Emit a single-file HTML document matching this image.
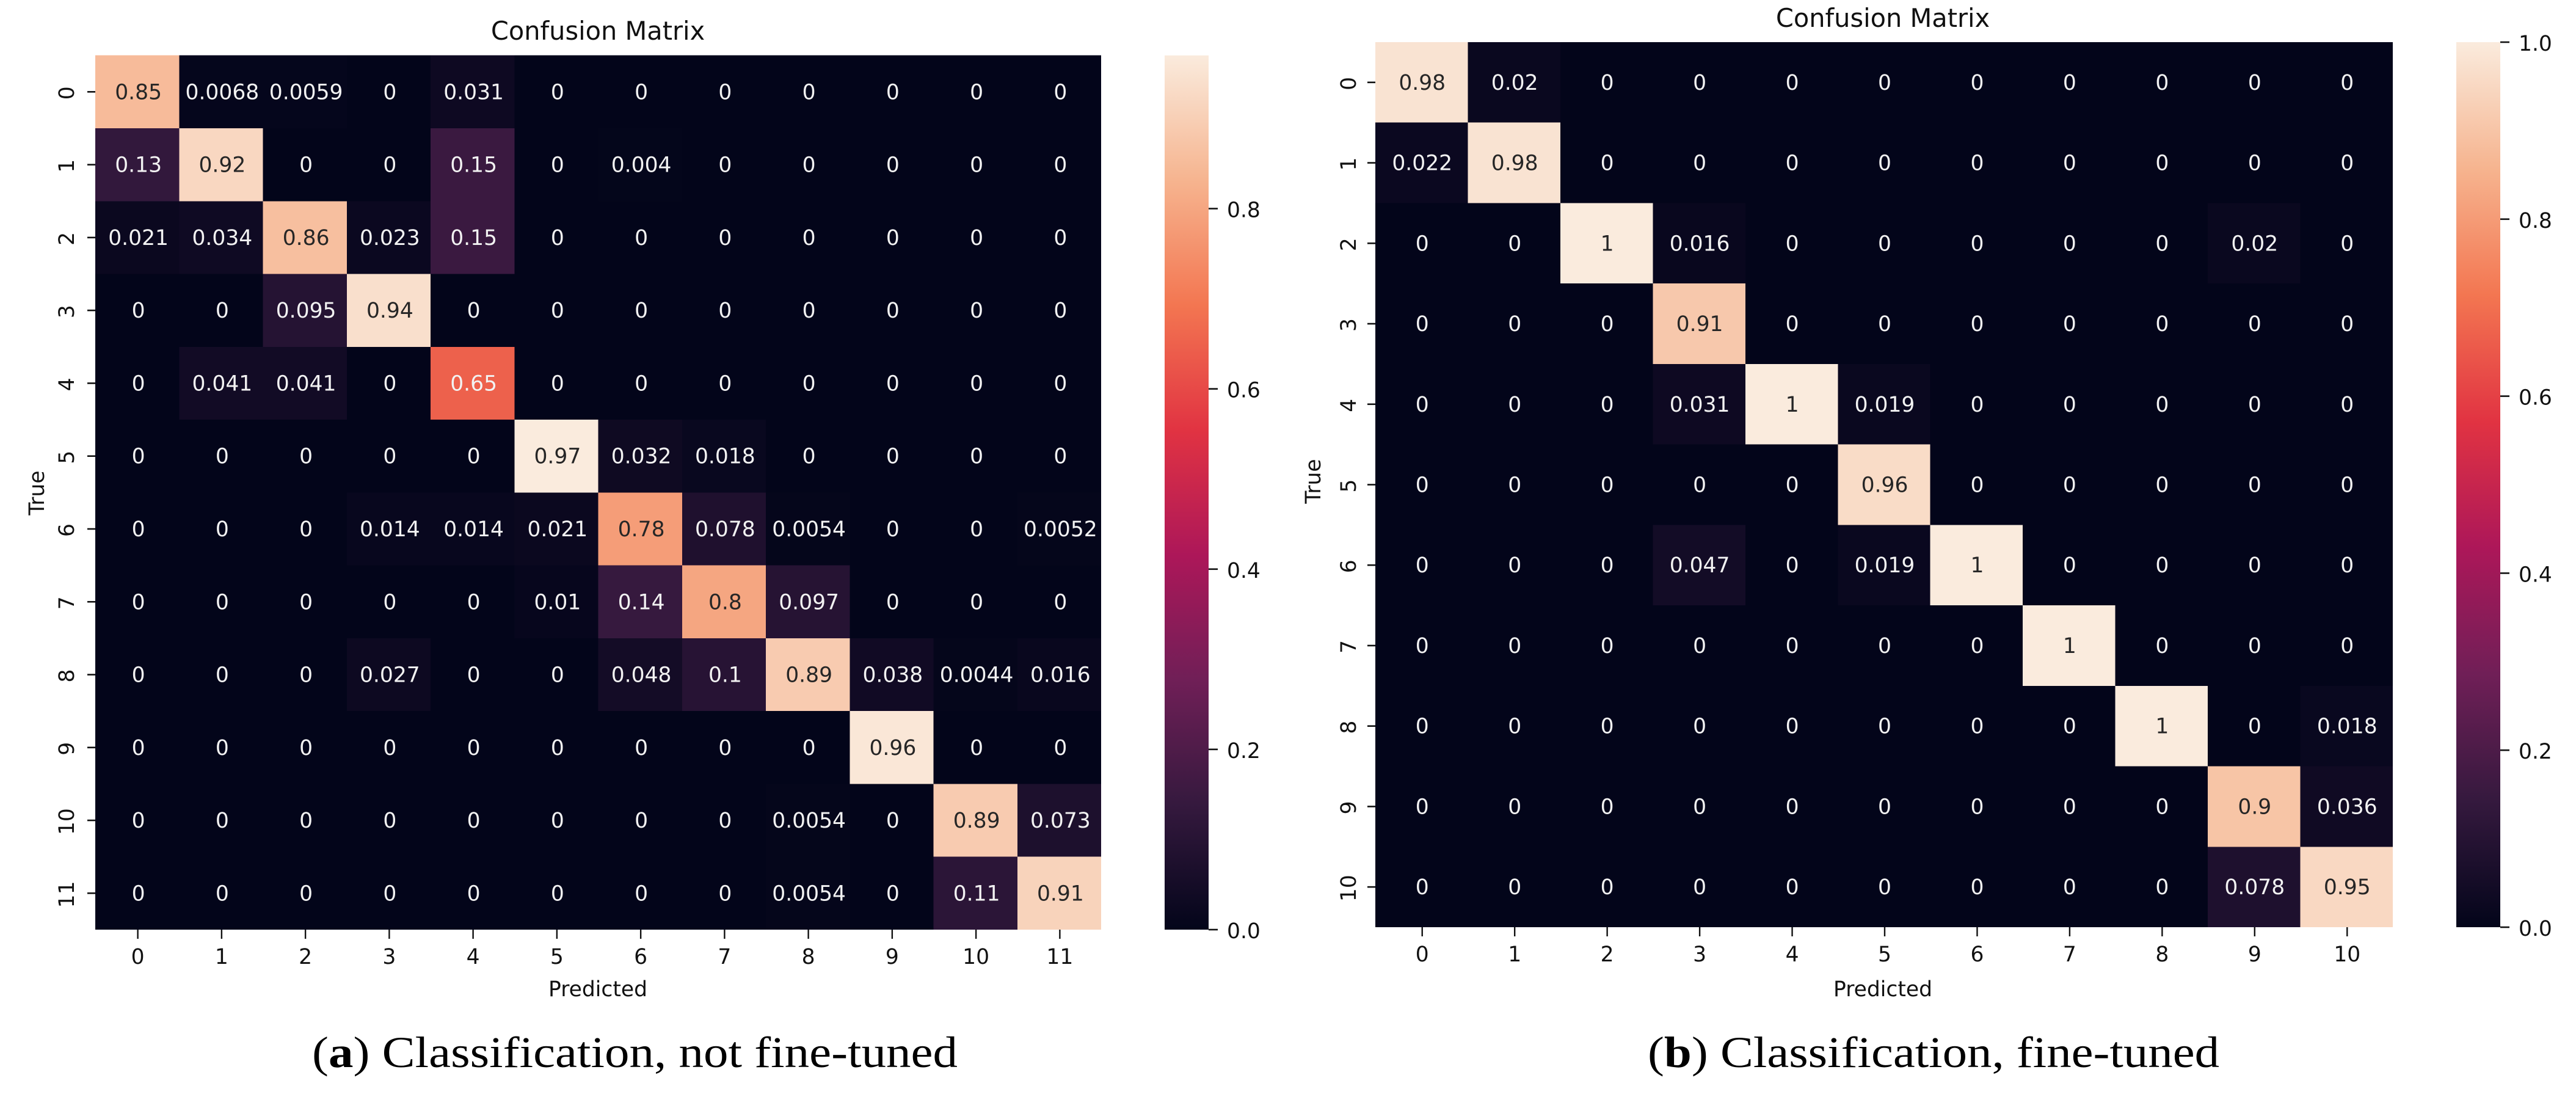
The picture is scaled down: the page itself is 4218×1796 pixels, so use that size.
<!DOCTYPE html>
<html lang="en">
<head>
<meta charset="utf-8">
<title>Confusion matrices</title>
<style>
  html, body { margin: 0; padding: 0; background: #ffffff; }
  #figure { display: block; }
  text { font-family: "DejaVu Sans", "Liberation Sans", sans-serif; }
  .caption { font-family: "Liberation Serif", serif; font-size: 72px; fill: #000; }
</style>
</head>
<body>
<svg id="figure" xmlns="http://www.w3.org/2000/svg" width="4218" height="1796" viewBox="0 0 4218 1796">
  <defs id="gradients"></defs>
  <g id="panel-a"></g>
  <g id="panel-b"></g>
  <text class="caption" x="511" y="1747" textLength="1057" lengthAdjust="spacingAndGlyphs">(<tspan font-weight="bold">a</tspan>) Classification, not fine-tuned</text>
  <text class="caption" x="2698" y="1747" textLength="936" lengthAdjust="spacingAndGlyphs">(<tspan font-weight="bold">b</tspan>) Classification, fine-tuned</text>
</svg>
<script>
const categoriesA = ["0","1","2","3","4","5","6","7","8","9","10","11"];
const valuesA = [
  [0.85,0.0068,0.0059,0,0.031,0,0,0,0,0,0,0],
  [0.13,0.92,0,0,0.15,0,0.004,0,0,0,0,0],
  [0.021,0.034,0.86,0.023,0.15,0,0,0,0,0,0,0],
  [0,0,0.095,0.94,0,0,0,0,0,0,0,0],
  [0,0.041,0.041,0,0.65,0,0,0,0,0,0,0],
  [0,0,0,0,0,0.97,0.032,0.018,0,0,0,0],
  [0,0,0,0.014,0.014,0.021,0.78,0.078,0.0054,0,0,0.0052],
  [0,0,0,0,0,0.01,0.14,0.8,0.097,0,0,0],
  [0,0,0,0.027,0,0,0.048,0.1,0.89,0.038,0.0044,0.016],
  [0,0,0,0,0,0,0,0,0,0.96,0,0],
  [0,0,0,0,0,0,0,0,0.0054,0,0.89,0.073],
  [0,0,0,0,0,0,0,0,0.0054,0,0.11,0.91]
];
const colorbarTicksA = [0, 0.2, 0.4, 0.6, 0.8];
const colorMaxA = 0.97;

const categoriesB = ["0","1","2","3","4","5","6","7","8","9","10"];
const valuesB = [
  [0.98,0.02,0,0,0,0,0,0,0,0,0],
  [0.022,0.98,0,0,0,0,0,0,0,0,0],
  [0,0,1,0.016,0,0,0,0,0,0.02,0],
  [0,0,0,0.91,0,0,0,0,0,0,0],
  [0,0,0,0.031,1,0.019,0,0,0,0,0],
  [0,0,0,0,0,0.96,0,0,0,0,0],
  [0,0,0,0.047,0,0.019,1,0,0,0,0],
  [0,0,0,0,0,0,0,1,0,0,0],
  [0,0,0,0,0,0,0,0,1,0,0.018],
  [0,0,0,0,0,0,0,0,0,0.9,0.036],
  [0,0,0,0,0,0,0,0,0,0.078,0.95]
];
const colorbarTicksB = [0, 0.2, 0.4, 0.6, 0.8, 1.0];
const colorMaxB = 1;

const rocketStops = [
  [0, 3, 5, 26], [0.143, 53, 25, 62], [0.286, 112, 31, 87], [0.429, 173, 23, 89],
  [0.571, 225, 51, 66], [0.714, 243, 118, 81], [0.857, 246, 180, 143], [1, 250, 235, 221]
];

const SVGNS = "http://www.w3.org/2000/svg";

function rocket(t) {
  t = Math.max(0, Math.min(1, t));
  for (let i = 1; i < rocketStops.length; i++) {
    const a = rocketStops[i - 1], b = rocketStops[i];
    if (t <= b[0]) {
      const f = (t - a[0]) / (b[0] - a[0]);
      return [1, 2, 3].map(k => a[k] + (b[k] - a[k]) * f);
    }
  }
  return rocketStops[rocketStops.length - 1].slice(1);
}
function css(c) { return "rgb(" + c.map(Math.round).join(",") + ")"; }
function luminance(c) {
  const l = c.map(v => { v /= 255; return v <= 0.03928 ? v / 12.92 : Math.pow((v + 0.055) / 1.055, 2.4); });
  return 0.2126 * l[0] + 0.7152 * l[1] + 0.0722 * l[2];
}
function make(tag, attrs, parent, content) {
  const el = document.createElementNS(SVGNS, tag);
  for (const k in attrs) el.setAttribute(k, attrs[k]);
  if (content !== undefined) el.textContent = content;
  parent.appendChild(el);
  return el;
}

function drawPanel(parent, id, cats, values, vmax, cbTicks, L) {
  const n = cats.length;
  const xPos = i => L.x0 + (L.x1 - L.x0) * (i + 0.5) / n;
  const yPos = i => L.y0 + (L.y1 - L.y0) * (i + 0.5) / n;
  const xEdge = i => L.x0 + (L.x1 - L.x0) * i / n;
  const yEdge = i => L.y0 + (L.y1 - L.y0) * i / n;
  const cbY = v => L.y1 - (L.y1 - L.y0) * v / vmax;

  values.forEach((row, r) => {
    row.forEach((v, c) => {
      const col = rocket(v / vmax);
      const cell = make("rect", {
        x: xEdge(c), y: yEdge(r), width: xEdge(c + 1) - xEdge(c), height: yEdge(r + 1) - yEdge(r),
        fill: css(col), "shape-rendering": "crispEdges"
      }, parent);
      
      
    });
  });
  values.forEach((row, r) => {
    row.forEach((v, c) => {
      const col = rocket(v / vmax);
      const label = make("text", {
        x: xPos(c) + L.annotDx, y: yPos(r) + 12, "text-anchor": "middle", "font-size": 34.5,
        fill: luminance(col) > 0.408 ? "#262626" : "#f2f2f2"
      }, parent, String(v));
      
      
    });
  });

  cats.forEach((cat, i) => {
    const xt = make("line", { x1: xPos(i) + 1, x2: xPos(i) + 1, y1: L.y1, y2: L.y1 + 15, stroke: "#111", "stroke-width": 2.4 }, parent);
    
    
    const xl = make("text", { x: xPos(i) + 1, y: L.y1 + 56, "text-anchor": "middle", "font-size": 34.5, fill: "#111" }, parent, cat);
    
    
    const yt = make("line", { x1: L.x0 - 13, x2: L.x0, y1: yPos(i), y2: yPos(i), stroke: "#111", "stroke-width": 2.6 }, parent);
    
    
    const yl = make("text", { transform: "translate(" + L.yLabelX + "," + (yPos(i) + 2) + ") rotate(-90)", "text-anchor": "middle", "font-size": 34.5, fill: "#111" }, parent, cat);
    
    
  });

  const title = make("text", { x: L.titleX, y: L.titleY, "text-anchor": "middle", "font-size": 41.5, fill: "#111" }, parent, "Confusion Matrix");
  
  
  const xTitle = make("text", { x: L.titleX, y: L.xTitleY, "text-anchor": "middle", "font-size": 34.5, fill: "#111" }, parent, "Predicted");
  
  
  const yTitle = make("text", { transform: "translate(" + L.yTitleX + "," + L.yTitleY + ") rotate(-90)", "text-anchor": "middle", "font-size": 34.5, fill: "#111" }, parent, "True");
  
  

  const grad = make("linearGradient", { id: "grad-" + id, x1: 0, y1: 1, x2: 0, y2: 0 }, document.getElementById("gradients"));
  rocketStops.forEach(s => {
    make("stop", { offset: s[0], "stop-color": "rgb(" + s[1] + "," + s[2] + "," + s[3] + ")" }, grad);
  });
  const bar = make("rect", { x: L.cbX0, y: L.y0, width: L.cbX1 - L.cbX0, height: L.y1 - L.y0, fill: "url(#grad-" + id + ")" }, parent);
  
  
  cbTicks.forEach(v => {
    const t = make("line", { x1: L.cbX1, x2: L.cbX1 + 15, y1: cbY(v), y2: cbY(v), stroke: "#111", "stroke-width": 2.6 }, parent);
    
    
    const tl = make("text", { x: L.cbX1 + 30, y: cbY(v) + 14, "font-size": 34.5, fill: "#111" }, parent, v.toFixed(1));
    
    
  });
}

drawPanel(document.getElementById("panel-a"), "a", categoriesA, valuesA, colorMaxA, colorbarTicksA, {
  x0: 156, x1: 1803, y0: 90.7, y1: 1522, cbX0: 1907, cbX1: 1979,
  annotDx: 2, yLabelX: 121, titleX: 979, titleY: 65, xTitleY: 1631, yTitleX: 72, yTitleY: 807
});
drawPanel(document.getElementById("panel-b"), "b", categoriesB, valuesB, colorMaxB, colorbarTicksB, {
  x0: 2252, x1: 3918, y0: 69, y1: 1518, cbX0: 4022, cbX1: 4094,
  annotDx: 1, yLabelX: 2220, titleX: 3083, titleY: 44, xTitleY: 1631, yTitleX: 2162, yTitleY: 788
});
</script>
</body>
</html>
